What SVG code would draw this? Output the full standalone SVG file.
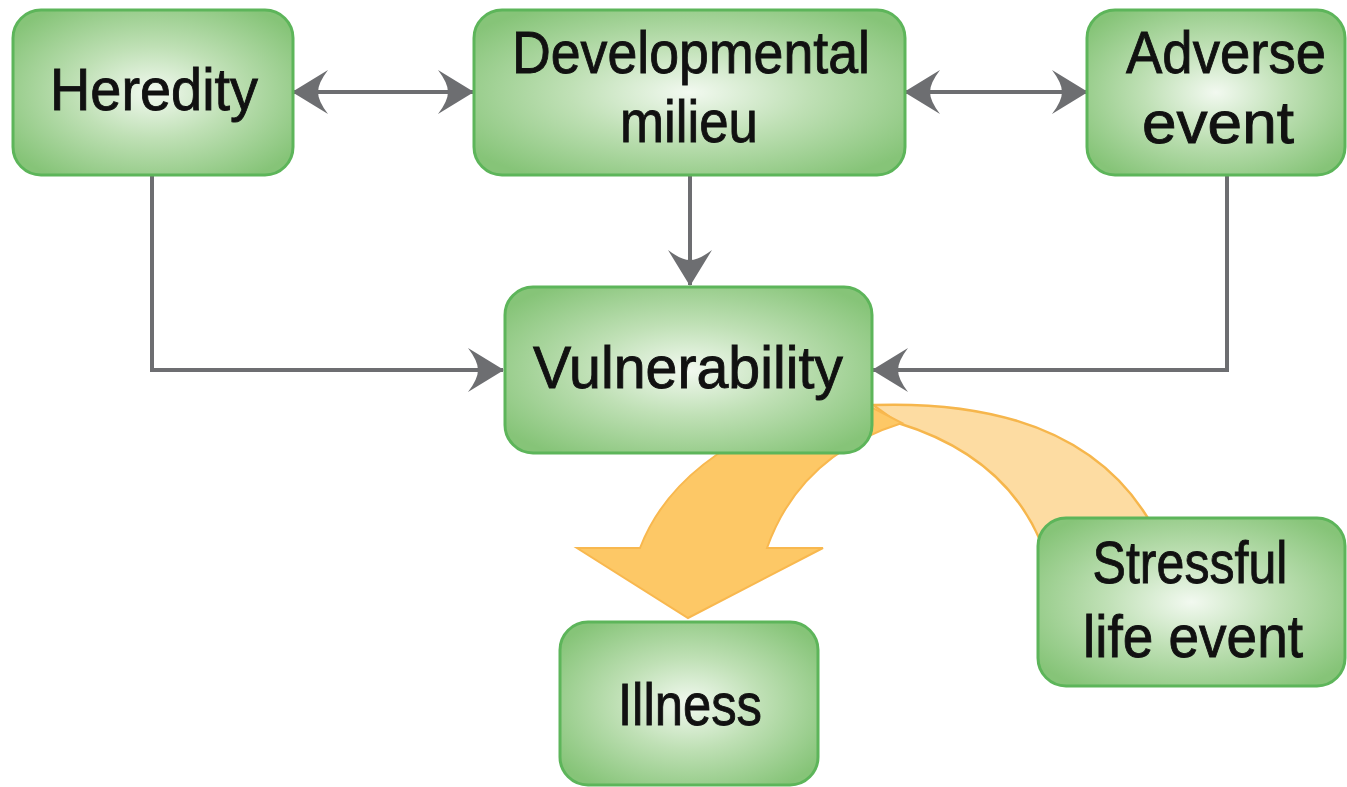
<svg xmlns="http://www.w3.org/2000/svg" width="1347" height="787" viewBox="0 0 1347 787">
  <style>
    .box { stroke: #5db55a; stroke-width: 3; fill: url(#boxFill); }
    .label { font-family: "Liberation Sans", Arial, sans-serif; font-size: 60px; fill: #111; stroke: #111; stroke-width: 0.9; text-anchor: middle; }
    .link { fill: none; stroke: #6d6e71; stroke-width: 4; }
  </style>
  <defs>
    <radialGradient id="boxFill" cx="0.5" cy="0.5" r="0.62">
      <stop offset="0" stop-color="#f2f9f0"/>
      <stop offset="0.45" stop-color="#bfe0b5"/>
      <stop offset="1" stop-color="#86c478"/>
    </radialGradient>
    <marker id="head" markerUnits="userSpaceOnUse" markerWidth="40" markerHeight="46" refX="38" refY="23" orient="auto-start-reverse" viewBox="0 0 40 46">
      <path d="M39 23 L3 1 Q13 14 13 23 Q13 32 3 45 Z" fill="#6d6e71"/>
    </marker>
  </defs>

  <rect width="1347" height="787" fill="#fff"/>

  <!-- orange arrows -->
  <g id="stress-arrows">
    <path d="M873 405 Q1080 398 1152 525 L1040 540 Q1003 455 898 423 Z" fill="#fddca2" stroke="#f6b64c" stroke-width="2.5"/>
    <path d="M770 425 Q670 470 640 548 L577 548 L688 618 L823 548 L767 548 Q800 455 902 423 L873 408 Z" fill="#fdc866" stroke="#f8b84f" stroke-width="2"/>
  </g>

  <!-- connectors -->
  <g id="connectors">
    <line class="link" x1="293" y1="92" x2="473" y2="92" marker-start="url(#head)" marker-end="url(#head)"/>
    <line class="link" x1="905" y1="92" x2="1087" y2="92" marker-start="url(#head)" marker-end="url(#head)"/>
    <line class="link" x1="690" y1="175" x2="690" y2="285" marker-end="url(#head)"/>
    <polyline class="link" points="152,175 152,370 503,370" marker-end="url(#head)"/>
    <polyline class="link" points="1227,175 1227,370 873,370" marker-end="url(#head)"/>
  </g>

  <g id="heredity">
    <rect class="box" x="13" y="10" width="280" height="165" rx="28"/>
    <text class="label" x="154" y="110" textLength="208" lengthAdjust="spacingAndGlyphs">Heredity</text>
  </g>

  <g id="developmental-milieu">
    <rect class="box" x="474" y="10" width="431" height="165" rx="28"/>
    <text class="label" x="691" y="73" textLength="358" lengthAdjust="spacingAndGlyphs">Developmental</text>
    <text class="label" x="689" y="142" textLength="138" lengthAdjust="spacingAndGlyphs">milieu</text>
  </g>

  <g id="adverse-event">
    <rect class="box" x="1087" y="10" width="258" height="165" rx="28"/>
    <text class="label" x="1226" y="73" textLength="200" lengthAdjust="spacingAndGlyphs">Adverse</text>
    <text class="label" x="1218" y="143" textLength="152" lengthAdjust="spacingAndGlyphs">event</text>
  </g>

  <g id="vulnerability">
    <rect class="box" x="505" y="287" width="367" height="166" rx="28"/>
    <text class="label" x="688" y="388" textLength="310" lengthAdjust="spacingAndGlyphs">Vulnerability</text>
  </g>

  <g id="illness">
    <rect class="box" x="560" y="622" width="258" height="163" rx="28"/>
    <text class="label" x="690" y="725" textLength="144" lengthAdjust="spacingAndGlyphs">Illness</text>
  </g>

  <g id="stressful-life-event">
    <rect class="box" x="1038" y="518" width="307" height="168" rx="28"/>
    <text class="label" x="1190" y="583" textLength="195" lengthAdjust="spacingAndGlyphs">Stressful</text>
    <text class="label" x="1193" y="657" textLength="220" lengthAdjust="spacingAndGlyphs">life event</text>
  </g>
</svg>
